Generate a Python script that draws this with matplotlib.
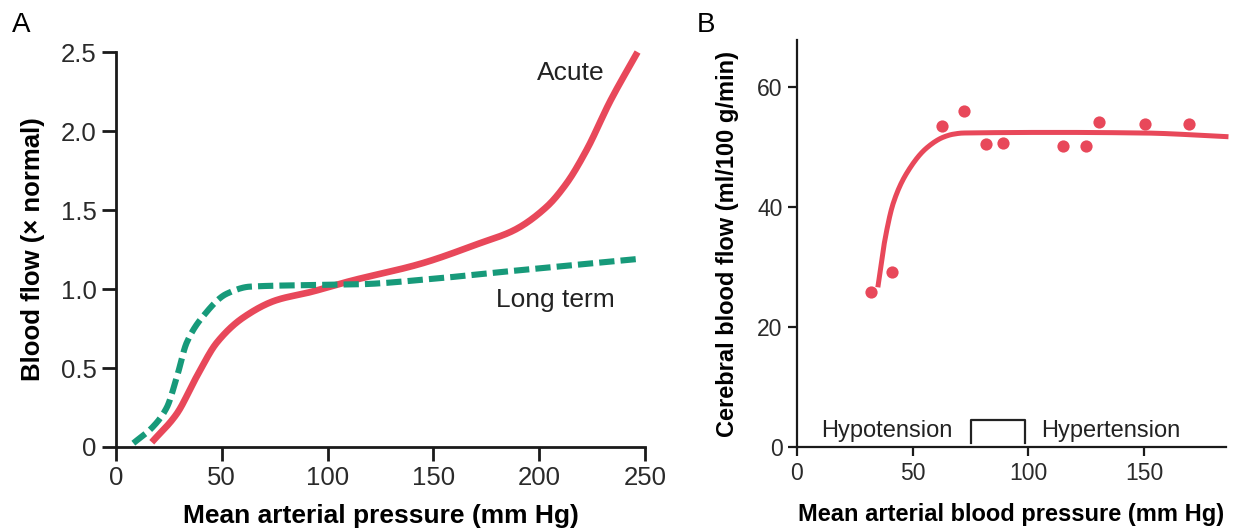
import matplotlib
matplotlib.use("Agg")
import matplotlib.pyplot as plt
import numpy as np

plt.rcParams['font.family'] = ['Liberation Sans', 'DejaVu Sans']

# Panel A data
acute_x = [16.9, 28.7, 38.1, 47.6, 60.2, 75.9, 91.7, 110.6, 144, 172, 187.8, 203.5, 213, 222.4, 233.6, 246.5]
acute_y = [0.03, 0.21, 0.445, 0.66, 0.82, 0.93, 0.98, 1.05, 1.16, 1.29, 1.37, 1.52, 1.67, 1.88, 2.19, 2.50]
long_x = [8.2, 17.6, 24, 28.7, 33.4, 41.3, 52.3, 63.3, 91.7, 115, 150, 183.9, 246.5]
long_y = [0.024, 0.13, 0.25, 0.44, 0.66, 0.83, 0.97, 1.015, 1.025, 1.03, 1.065, 1.11, 1.19]
a_xticks = [0, 50, 100, 150, 200, 250]
a_yticks = [0, 0.5, 1.0, 1.5, 2.0, 2.5]
a_yticklabels = ['0', '0.5', '1.0', '1.5', '2.0', '2.5']

# Panel B data
pts_x = [32, 41, 62.8, 72.2, 81.7, 89.2, 115, 125, 130.5, 150.4, 169.4]
pts_y = [25.9, 29.2, 53.6, 56.1, 50.6, 50.7, 50.25, 50.25, 54.25, 53.9, 53.9]
fit_x = [35.1, 38.0, 41.6, 47.4, 56.0, 63.2, 67.5, 72.0, 113.7, 150, 185.4]
fit_y = [27.1, 34.6, 40.7, 45.7, 49.9, 51.7, 52.2, 52.4, 52.5, 52.4, 51.8]
b_xticks = [0, 50, 100, 150]
b_yticks = [0, 20, 40, 60]

RED = '#e8485a'
GREEN = '#179a7a'


def pchip(x, y, n=400):
    x = np.asarray(x, float); y = np.asarray(y, float)
    h = np.diff(x); d = np.diff(y) / h
    m = np.zeros_like(x)
    for k in range(1, len(x) - 1):
        if d[k - 1] * d[k] > 0:
            w1 = 2 * h[k] + h[k - 1]; w2 = h[k] + 2 * h[k - 1]
            m[k] = (w1 + w2) / (w1 / d[k - 1] + w2 / d[k])
    m[0] = d[0]; m[-1] = d[-1]
    xs = np.linspace(x[0], x[-1], n)
    idx = np.clip(np.searchsorted(x, xs) - 1, 0, len(x) - 2)
    t = (xs - x[idx]) / h[idx]
    h00 = 2 * t**3 - 3 * t**2 + 1; h10 = t**3 - 2 * t**2 + t
    h01 = -2 * t**3 + 3 * t**2; h11 = t**3 - t**2
    ys = h00 * y[idx] + h10 * h[idx] * m[idx] + h01 * y[idx + 1] + h11 * h[idx] * m[idx + 1]
    return xs, ys


fig = plt.figure(figsize=(12.42, 5.31), dpi=100)

def style(ax, lw, tlen, lsize, pad):
    for s in ['top', 'right']:
        ax.spines[s].set_visible(False)
    for s in ['left', 'bottom']:
        ax.spines[s].set_linewidth(lw)
        ax.spines[s].set_color('#1a1a1a')
    ax.tick_params(direction='out', length=tlen, width=lw, labelsize=lsize, colors='#1a1a1a',
                   labelcolor='#2a2a2a', pad=pad)

# Panel A
axA = fig.add_axes([0.0934, 0.1582, 0.4259, 0.7438])
style(axA, 2.0, 10, 18.5, 4)
xs, ys = pchip(acute_x, acute_y)
axA.plot(xs, ys, color=RED, lw=4.8, solid_capstyle='butt', clip_on=False)
xs, ys = pchip(long_x, long_y)
axA.plot(xs, ys, color=GREEN, lw=4.4, dashes=(2.5, 1.0), dash_capstyle='butt', clip_on=False)
axA.set_xlim(0, 250)
axA.set_ylim(0, 2.5)
axA.set_xticks(a_xticks)
axA.set_yticks(a_yticks)
axA.set_yticklabels(a_yticklabels)
axA.set_xlabel('Mean arterial pressure (mm Hg)', fontsize=19, fontweight='bold', labelpad=10)
axA.set_ylabel('Blood flow (× normal)', fontsize=18.5, fontweight='bold', labelpad=11)
axA.text(215, 2.37, 'Acute', fontsize=19, ha='center', va='center', color='#222222')
axA.text(207.5, 0.93, 'Long term', fontsize=19, ha='center', va='center', color='#222222')
fig.text(12 / 1242, 1 - 25 / 531, 'A', fontsize=20, ha='left', va='center')

# Panel B
axB = fig.add_axes([0.6417, 0.1573, 0.3454, 0.7674])
style(axB, 1.6, 6.5, 16.5, 4)
xs, ys = pchip(fit_x, fit_y)
axB.plot(xs, ys, color=RED, lw=3.6, clip_on=False)
axB.plot(pts_x, pts_y, 'o', color=RED, ms=8.8, mec='none', clip_on=False)
axB.set_xlim(0, 185.4)
axB.set_ylim(0, 67.9)
axB.set_xticks(b_xticks)
axB.set_yticks(b_yticks)
axB.set_xlabel('Mean arterial blood pressure (mm Hg)', fontsize=17, fontweight='bold', labelpad=13)
axB.set_ylabel('Cerebral blood flow (ml/100 g/min)', fontsize=17, fontweight='bold', labelpad=13)
axB.plot([75.2, 75.2, 98.5, 98.5], [0.7, 4.65, 4.65, 0.7], color='#222222', lw=1.6)
axB.text(39, 2.7, 'Hypotension', fontsize=17, ha='center', va='center', color='#222222')
axB.text(135.7, 2.7, 'Hypertension', fontsize=17, ha='center', va='center', color='#222222')
fig.text(697 / 1242, 1 - 25 / 531, 'B', fontsize=20, ha='left', va='center')

fig.savefig('out.png', dpi=100)
